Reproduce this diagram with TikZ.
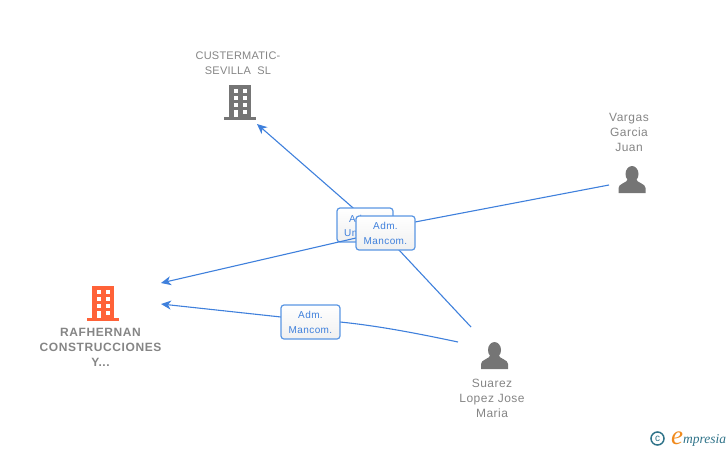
\documentclass[tikz,border=0pt]{standalone}
\usepackage{fontspec}
\setmainfont{Liberation Sans}
\newfontfamily\lblfont[LetterSpace=4]{Liberation Sans}
\newfontfamily\capfont[LetterSpace=2]{Liberation Sans}
\newfontfamily\strongfont[LetterSpace=5]{Liberation Sans Bold}
\newfontfamily\logofont{Liberation Serif Italic}
\usetikzlibrary{arrows.meta}
\definecolor{linkblue}{HTML}{3F80DC}
\definecolor{boxblue}{HTML}{5A96E3}
\definecolor{textblue}{HTML}{3F80DC}
\definecolor{icongrey}{HTML}{757575}
\definecolor{labelgrey}{HTML}{858585}
\definecolor{firmorange}{HTML}{FF6238}
\definecolor{logoteal}{HTML}{2F7389}
\definecolor{logoorange}{HTML}{F08A1D}
\tikzset{
  x=1pt,y=-1pt,
  link/.style={draw=linkblue,line width=1.1pt,-{Stealth[length=10pt,width=9pt,inset=3pt]}},
  relbox/.style={draw=boxblue,line width=1.2pt,rounded corners=3pt,top color=white,bottom color=white!94!black,minimum width=59pt,minimum height=34pt,inner sep=0pt,align=center,text=textblue,font=\fontsize{10}{15}\selectfont\lblfont},
  hidtext/.style={inner sep=0pt,anchor=west,text=textblue,font=\fontsize{10}{15}\selectfont\lblfont},
  nametext/.style={inner sep=0pt,align=center,text=labelgrey,font=\fontsize{12}{15}\selectfont\lblfont},
  captext/.style={inner sep=0pt,align=center,text=labelgrey,font=\fontsize{11}{15}\selectfont\capfont},
  firmtext/.style={inner sep=0pt,align=center,text=labelgrey,font=\fontsize{12}{15}\selectfont\strongfont},
  buildingicon/.pic={
    \fill[pic actions] (5,0) rectangle (27,32);
    \fill[pic actions] (0,31.500) rectangle (32,34.500);
    \foreach \yy in {4,11,18}{
      \fill[white] (9.500,\yy) rectangle (13.500,\yy+3.800);
      \fill[white] (18.500,\yy) rectangle (23,\yy+3.800);
    }
    \fill[white] (9.500,25) rectangle (13.500,31.500);
    \fill[white] (18.500,25) rectangle (23,28.800);
  },
  personicon/.pic={
    \fill[pic actions] (0,-6) ellipse (6.500 and 8);
    \fill[pic actions] (-13.500,13) -- (-13.500,8) .. controls (-13.500,3.500) and (-5,3) .. (-4,-1)
       -- (4,-1) .. controls (5,3) and (13.500,3.500) .. (13.500,8) -- (13.500,13) -- cycle;
  }
}
\begin{document}
\begin{tikzpicture}
\useasboundingbox (0,0) rectangle (728,450);
% anchor points of the connectors
\coordinate (custerIn) at (257,124);
\coordinate (firmInA) at (161,283);
\coordinate (firmInB) at (161,304);
\coordinate (vargasOut) at (609,185);
\coordinate (suarezOutA) at (471,327);
\coordinate (suarezOutB) at (458,342);
% icons
\pic[fill=firmorange] (firmicon) at (87,286) {buildingicon};
\pic[fill=icongrey] (custericon) at (224,85) {buildingicon};
\pic[fill=icongrey] (vargasicon) at (632,180) {personicon};
\pic[fill=icongrey] (suarezicon) at (494.500,356) {personicon};
% labels
\node[firmtext] (firmlabel) at (100.500,347) {RAFHERNAN\\CONSTRUCCIONES\\Y...};
\node[captext] (custerlabel) at (238,63.500) {CUSTERMATIC-\\SEVILLA\ \ SL};
\node[nametext] (vargaslabel) at (629,132) {Vargas\\Garcia\\Juan};
\node[nametext] (suarezlabel) at (492,398) {Suarez\\Lopez Jose\\Maria};
% connectors and relation boxes
\draw[link] (suarezOutA) -- (399,250) .. controls (385,235) and (368,222) .. (352,207) -- (custerIn);
\node[relbox,minimum width=56pt] (relunder) at (365,225) {};
\node[hidtext] (relunderA) at (349,218.500) {Ad};
\node[hidtext] (relunderB) at (344,233) {Un};
\draw[link] (vargasOut) -- (415,222) -- (356,238) -- (firmInA);
\node[relbox] (reltop) at (385.500,233) {Adm.\\Mancom.};
\draw[link] (suarezOutB) .. controls (420,334) and (380,326) .. (340,322) -- (281,317) -- (firmInB);
\node[relbox] (relfirm) at (310.500,322) {Adm.\\Mancom.};
% logo
\node[circle,draw=logoteal,line width=1.500pt,minimum size=13pt,inner sep=0pt,text=logoteal,font=\fontsize{10}{10}\selectfont] (logoc) at (657.500,438.500) {c};
\node[inner sep=0pt,anchor=base west,text=logoorange,font=\fontsize{27}{27}\selectfont\logofont] (logoe) at (671,444) {e};
\node[inner sep=0pt,anchor=base west,text=logoteal,font=\fontsize{13.500}{13.500}\selectfont\logofont] (logotext) at (683,443) {mpresia};
\end{tikzpicture}
\end{document}
